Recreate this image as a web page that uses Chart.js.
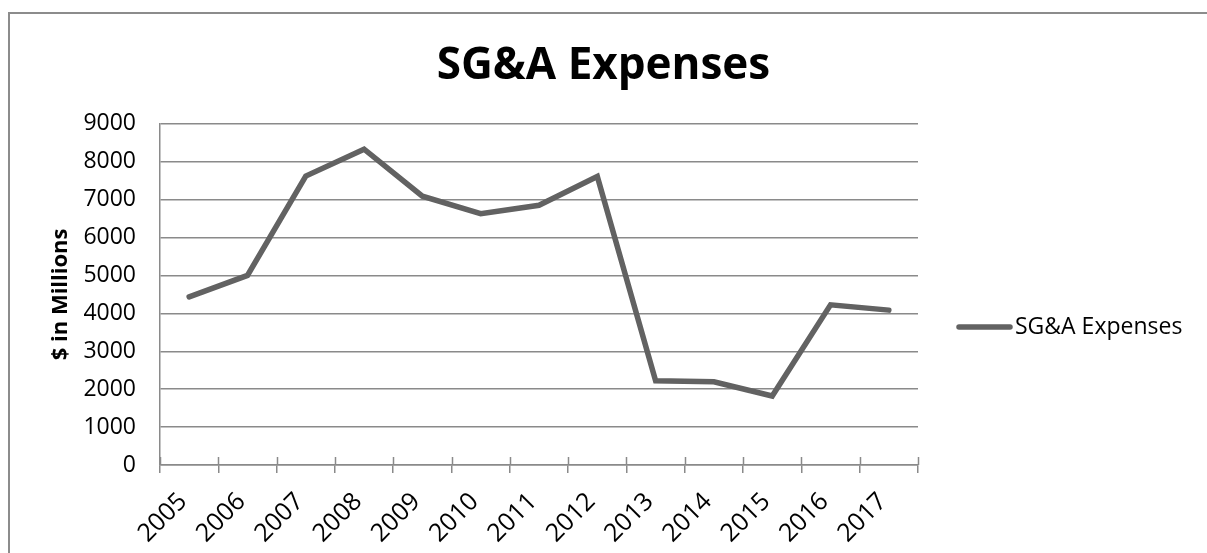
<!DOCTYPE html>
<html>
<head>
<meta charset="utf-8">
<script src="https://cdn.jsdelivr.net/npm/chart.js@4.4.1/dist/chart.umd.min.js"></script>
<style>
  html, body { margin: 0; padding: 0; background: #fff; }
  #frame { position: absolute; left: 8px; top: 12px; width: 1300px; height: 700px;
           border-left: 2px solid #8c8c8c; border-top: 2px solid #8c8c8c; box-sizing: border-box; }
  #wrap { position: absolute; left: 0; top: 0; width: 1207px; height: 553px; }
  canvas { display: block; }
</style>
</head>
<body>
<div id="frame"></div>
<div id="wrap"><canvas id="c" width="1207" height="553"></canvas></div>
<script>
const categories = ['2005','2006','2007','2008','2009','2010','2011','2012','2013','2014','2015','2016','2017'];
const sgaExpenses = [4435, 5000, 7620, 8330, 7090, 6630, 6850, 7610, 2220, 2195, 1820, 4225, 4085];
const seriesLabel = 'SG&A Expenses';
const chartTitle = 'SG&A Expenses';
const yAxisTitle = '$ in Millions';
const yMin = 0, yMax = 9000, yStep = 1000;

const AXIS_GRAY = '#8a8a8a';
const LINE_GRAY = '#626262';
const FONT = "'Open Sans', 'Liberation Sans', sans-serif";

const crossTicks = {
  id: 'crossTicks',
  afterDatasetsDraw(chart) {
    const x = chart.scales.x, ctx = chart.ctx;
    const yAxis = x.top;
    ctx.save();
    ctx.strokeStyle = AXIS_GRAY;
    ctx.lineWidth = 1.5;
    for (let i = 0; i <= categories.length; i++) {
      const px = Math.round(x.getPixelForValue(i - 0.5)) + 0.5;
      ctx.beginPath();
      ctx.moveTo(px, yAxis - 8);
      ctx.lineTo(px, yAxis);
      ctx.stroke();
    }
    ctx.restore();
  }
};

const sideLegend = {
  id: 'sideLegend',
  afterDraw(chart) {
    const ctx = chart.ctx, ds = chart.data.datasets[0];
    const area = chart.chartArea;
    const x0 = area.right + 39, y0 = 327;
    ctx.save();
    ctx.strokeStyle = ds.borderColor;
    ctx.lineWidth = ds.borderWidth;
    ctx.lineCap = 'round';
    ctx.beginPath();
    ctx.moveTo(x0 + 2, y0);
    ctx.lineTo(x0 + 53, y0);
    ctx.stroke();
    ctx.fillStyle = '#000';
    ctx.font = '23px ' + FONT;
    ctx.textBaseline = 'middle';
    ctx.textAlign = 'left';
    ctx.fillText(ds.label, x0 + 58, y0);
    ctx.restore();
  }
};

new Chart(document.getElementById('c'), {
  type: 'line',
  data: {
    labels: categories,
    datasets: [{
      label: seriesLabel,
      data: sgaExpenses,
      borderColor: LINE_GRAY,
      backgroundColor: LINE_GRAY,
      borderWidth: 5.5,
      pointRadius: 0,
      tension: 0,
      borderJoinStyle: 'miter',
      borderCapStyle: 'round'
    }]
  },
  options: {
    responsive: false,
    animation: false,
    devicePixelRatio: 1,
    layout: { padding: 0 },
    plugins: {
      legend: { display: false },
      tooltip: { enabled: false },
      title: {
        display: true,
        text: chartTitle,
        color: '#000',
        font: { family: FONT, size: 44, weight: 'bold' },
        padding: { top: 40, bottom: 31 }
      }
    },
    scales: {
      x: {
        offset: true,
        grid: { offset: true, drawOnChartArea: false, drawTicks: true, tickLength: 8, color: AXIS_GRAY, lineWidth: 1.5 },
        border: { color: AXIS_GRAY, width: 1.5 },
        ticks: { color: '#000', font: { family: FONT, size: 25 }, minRotation: 45, maxRotation: 45, padding: 14, labelOffset: -6, autoSkip: false },
        afterFit(scale) { scale.height = 88; }
      },
      y: {
        min: yMin, max: yMax,
        grid: { color: AXIS_GRAY, lineWidth: 1.5, drawTicks: false },
        border: { color: AXIS_GRAY, width: 1.5 },
        ticks: { stepSize: yStep, color: '#000', font: { family: FONT, size: 23 }, padding: 24,
                 callback: (v) => String(v) },
        title: { display: true, text: yAxisTitle, color: '#000', font: { family: FONT, size: 22, weight: 'bold' }, padding: { top: 48, bottom: 0 } },
        afterFit(scale) { scale.width = 160; }
      },
      spacer: {
        position: 'right',
        display: true,
        grid: { display: false, drawTicks: false },
        border: { display: false },
        ticks: { display: false },
        afterFit(scale) { scale.width = 289; }
      }
    }
  },
  plugins: [crossTicks, sideLegend]
});
</script>
</body>
</html>
